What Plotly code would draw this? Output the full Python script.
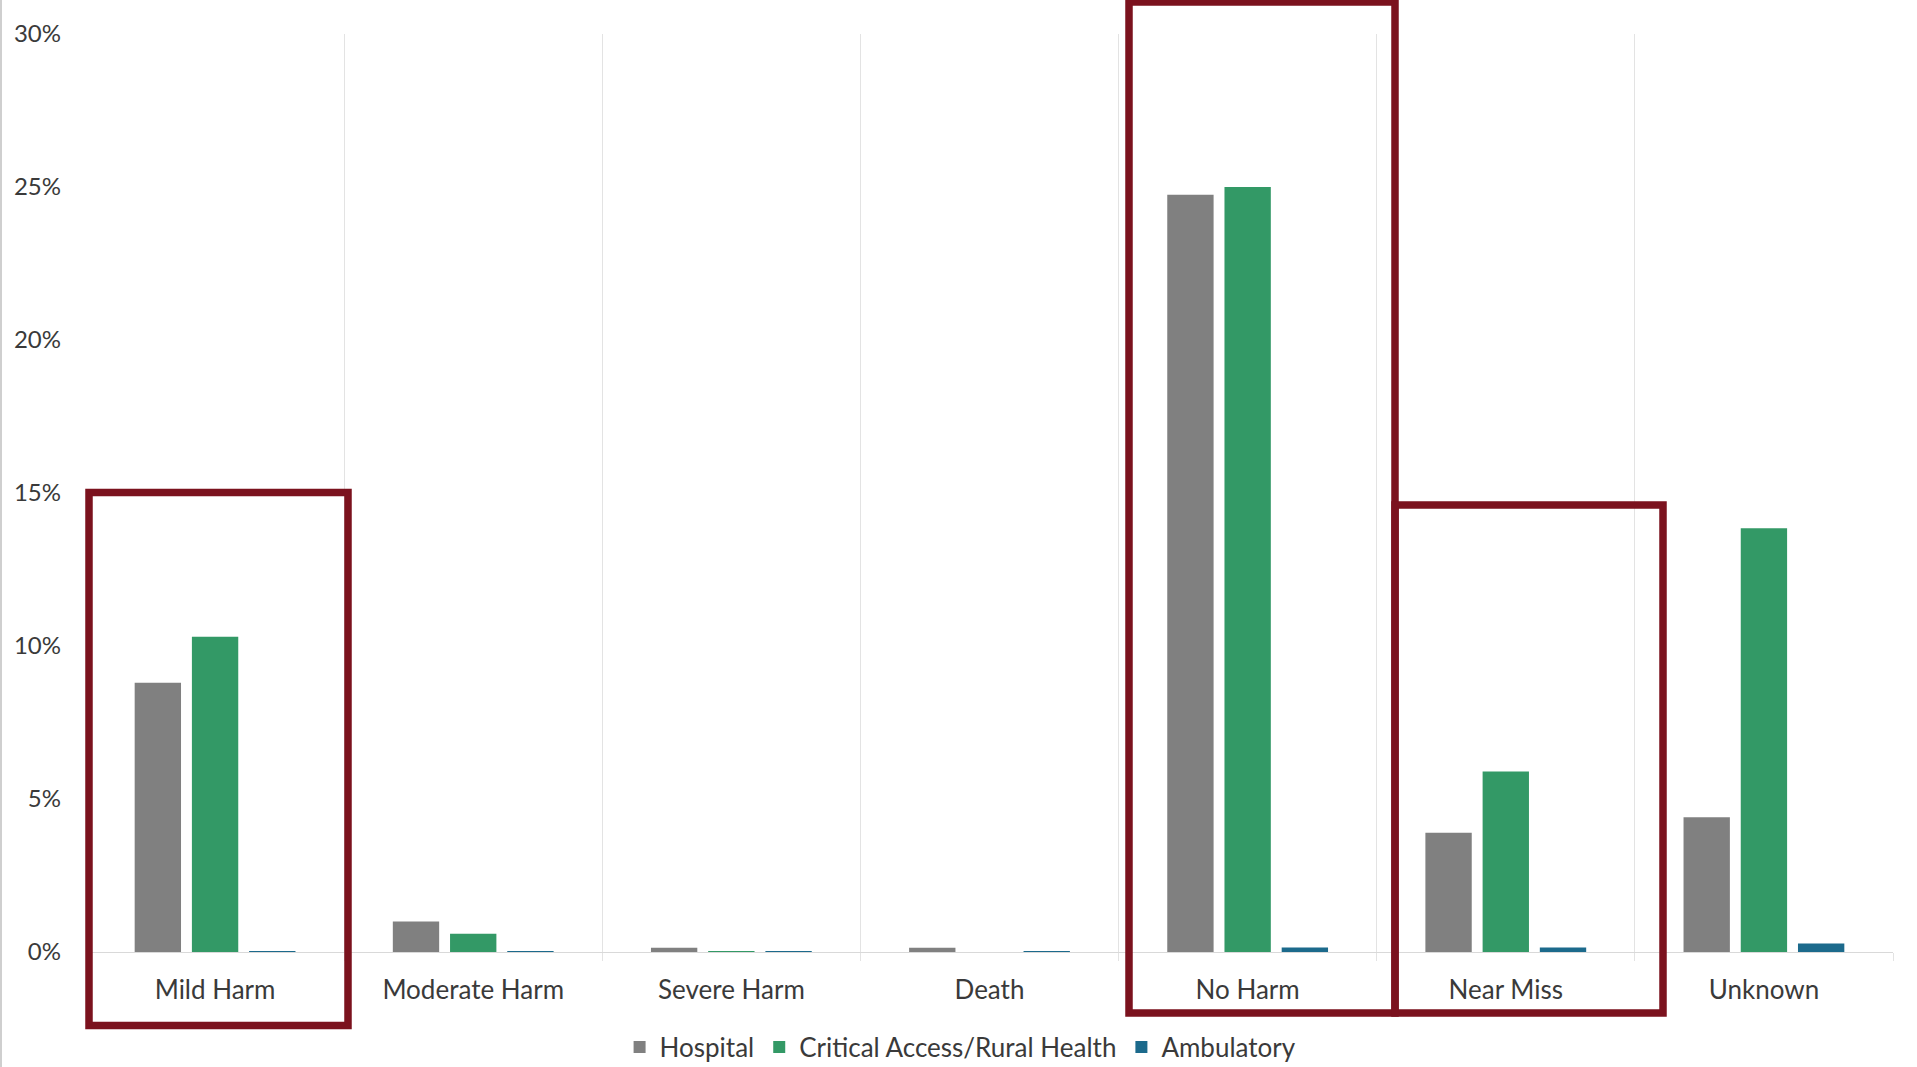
import plotly.graph_objects as go

# ---- data ----
categories = ["Mild Harm", "Moderate Harm", "Severe Harm", "Death", "No Harm", "Near Miss", "Unknown"]
hospital = [8.8, 1.0, 0.14, 0.14, 24.75, 3.9, 4.4]
critical_access = [10.3, 0.6, 0.03, 0.0, 25.0, 5.9, 13.85]
ambulatory = [0.03, 0.03, 0.03, 0.03, 0.15, 0.15, 0.28]
series_names = ["Hospital", "Critical Access/Rural Health", "Ambulatory"]
y_ticks = [0, 5, 10, 15, 20, 25, 30]
y_tick_labels = ["0%", "5%", "10%", "15%", "20%", "25%", "30%"]

# ---- styles ----
colors = ["#808080", "#339966", "#1C6A8C"]
FONT = "Lato"
TEXT = "#3a3a3a"
W, H = 1917, 1067
L, R, T, B = 86, 24, 34, 115
PW, PH = W - L - R, H - T - B

fig = go.Figure()
for name, vals, c in zip(series_names, [hospital, critical_access, ambulatory], colors):
    fig.add_trace(go.Bar(name=name, x=categories, y=vals, marker=dict(color=c, line=dict(width=0))))


def px_x(p):
    return (p - L) / PW


def px_y(p):
    return (H - B - p) / PH


boxes = [(89, 348, 492.5, 1025.5), (1129, 1395, 2, 1013), (1395, 1663, 505, 1013)]
shapes = []
for x0, x1, y0, y1 in boxes:
    shapes.append(dict(type="rect", xref="paper", yref="paper",
                       x0=px_x(x0), x1=px_x(x1), y0=px_y(y1), y1=px_y(y0),
                       line=dict(color="#7B121E", width=7.5), fillcolor="rgba(0,0,0,0)",
                       layer="above"))
# thin image border at left edge
shapes.append(dict(type="line", xref="paper", yref="paper", x0=px_x(1), x1=px_x(1),
                   y0=px_y(H), y1=px_y(0), line=dict(color="#cfcfcf", width=2), layer="above"))

fig.update_layout(
    width=W, height=H,
    margin=dict(l=L, r=R, t=T, b=B, autoexpand=False),
    paper_bgcolor="white", plot_bgcolor="white",
    barmode="group", bargap=0.335, bargroupgap=0.19,
    font=dict(family=FONT, size=26, color=TEXT),
    showlegend=True,
    legend=dict(orientation="h", x=0.484, xanchor="center",
                yref="container", y=(H - 1047) / H, yanchor="middle",
                font=dict(family=FONT, size=26, color=TEXT), itemwidth=30,
                traceorder="normal", bgcolor="rgba(0,0,0,0)"),
    shapes=shapes,
)
fig.update_xaxes(
    type="category", tickson="boundaries", showgrid=True, gridcolor="#e3e3e3", gridwidth=1,
    ticks="outside", ticklen=8, tickcolor="#e3e3e3", automargin=False,
    showline=True, linecolor="#d9d9d9", linewidth=1,
    tickfont=dict(family=FONT, size=26, color=TEXT), ticklabelstandoff=15,
)
fig.update_yaxes(
    range=[0, 30], tickmode="array", tickvals=y_ticks, ticktext=y_tick_labels,
    showgrid=False, zeroline=False, automargin=False,
    showline=False, ticks="", tickfont=dict(family=FONT, size=24, color=TEXT),
    ticklabelstandoff=24,
)

fig.write_html("out.html")
